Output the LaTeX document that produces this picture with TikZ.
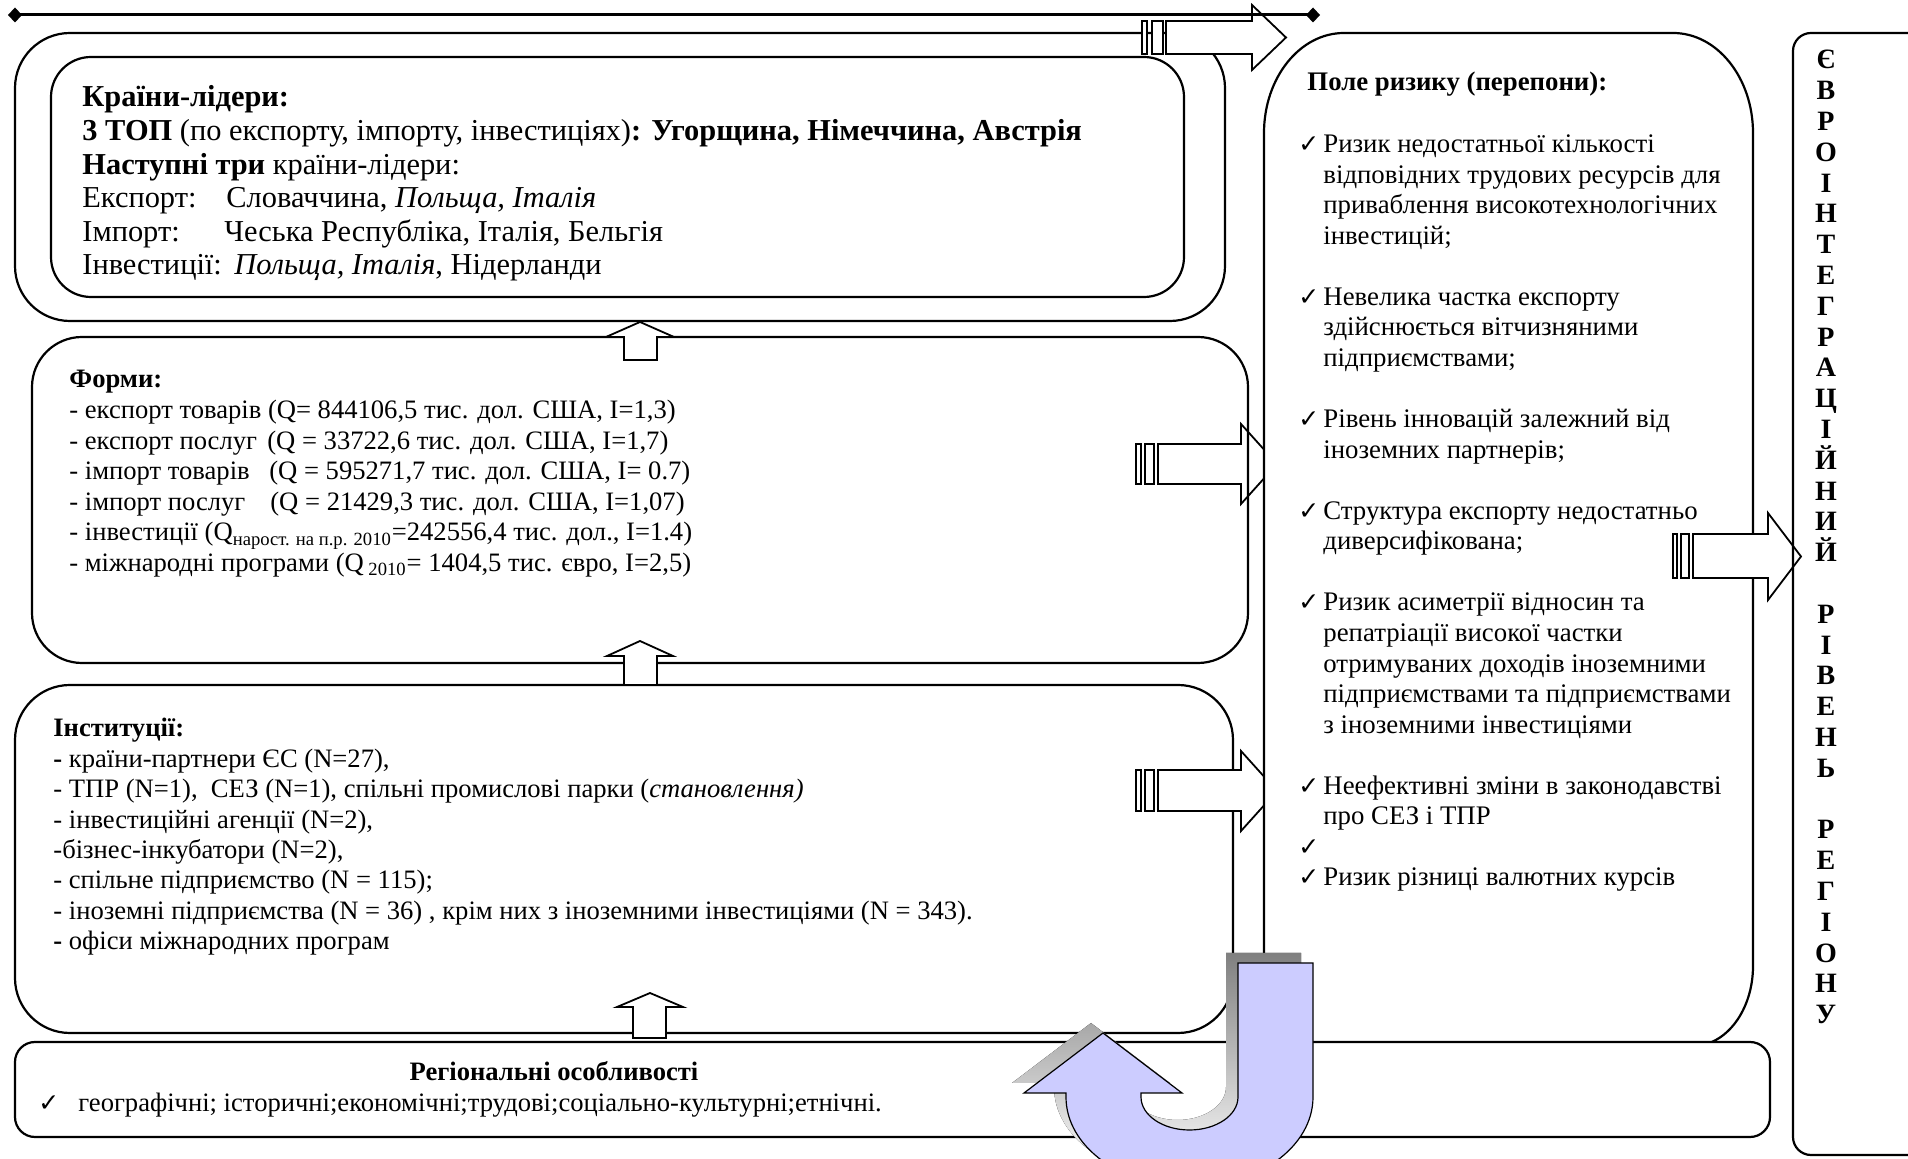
\documentclass[tikz,border=0pt]{standalone}
\usepackage{fontspec}
\setmainfont{Liberation Serif}
\newfontfamily\chkfont{DejaVu Sans}
\usetikzlibrary{arrows.meta}
\definecolor{lavender}{RGB}{204,204,255}
\definecolor{shade}{RGB}{128,128,128}
% U-turn arrow outline
\newcommand{\uturnpath}{(1238,963) -- (1313,963) -- (1313,1097)
  arc[start angle=0,end angle=180,x radius=123.5,y radius=90] -- (1066,1093)
  -- (1024,1093) -- (1103,1033) -- (1182,1093) -- (1141,1093) -- (1141,1097)
  arc[start angle=180,end angle=0,x radius=48.5,y radius=33] -- cycle}

\begin{document}
\begin{tikzpicture}[x=0.5pt,y=-0.5pt,
  box/.style={draw,line width=1.1pt},
  blk/.style={draw,line width=0.9pt,fill=white},
  txt/.style={anchor=base west,inner sep=0pt,font=\fontsize{13.3}{15}\selectfont},
  bigtxt/.style={txt,font=\fontsize{15.2}{17}\selectfont},
  risktxt/.style={txt,font=\fontsize{13.4}{15}\selectfont},
  chk/.style={anchor=base west,inner sep=0pt,font=\chkfont\fontsize{12.5}{14}\selectfont},
  eutxt/.style={anchor=base,inner sep=0pt,font=\bfseries\fontsize{14}{16}\selectfont}]
\useasboundingbox (0,0) rectangle (1908,1159);
%leaders
\draw[box,rounded corners=27.5pt] (15,33) rectangle (1225,321);
\draw[box,rounded corners=20pt] (51,57) rectangle (1184,297);
\node[bigtxt] (lead0) at (82,107) {\textbf{Країни-лідери:}};
\node[bigtxt] (lead1) at (82,140.6) {\textbf{3 ТОП} (по експорту, імпорту, інвестиціях)\textbf{: Угорщина, Німеччина, Австрія}};
\node[bigtxt] (lead2) at (82,174.2) {\textbf{Наступні три} країни-лідери:};
\node[bigtxt] (lead3) at (82,207.8) {\makebox[72pt][l]{Експорт:}Словаччина, \textit{Польща, Італія}};
\node[bigtxt] (lead4) at (82,241.4) {\makebox[71pt][l]{Імпорт:}Чеська Республіка, Італія, Бельгія};
\node[bigtxt] (lead5) at (82,275) {\makebox[76pt][l]{Інвестиції:}\textit{Польща, Італія}, Нідерланди};
%top arrow
\draw[blk] (1142,21) rectangle (1147,54);
\draw[blk] (1152,21) rectangle (1163,54);
\draw[blk] (1166,21) -- (1252,21) -- (1252,5) -- (1286,37.5) -- (1252,70) -- (1252,54) -- (1166,54) -- cycle;
\coordinate (lineL) at (8,15);
\coordinate (lineR) at (1320,15);
\draw[line width=1.5pt,{Diamond[length=7pt,width=7.5pt]}-{Diamond[length=7pt,width=7.5pt]}] (lineL) -- (lineR);
%forms
\draw[box,rounded corners=25pt] (32,337) rectangle (1248,663);
\node[txt] (form0) at (69,388) {\textbf{Форми:}};
\node[txt] (form1) at (69,418.6) {- експорт товарів (Q= 844106,5 тис. дол. США, I=1,3)};
\node[txt] (form2) at (69,449.2) {\makebox[99pt][l]{- експорт послуг}(Q = 33722,6 тис. дол. США, I=1,7)};
\node[txt] (form3) at (69,479.8) {\makebox[100pt][l]{- імпорт товарів}(Q = 595271,7 тис. дол. США, I= 0.7)};
\node[txt] (form4) at (69,510.4) {\makebox[100.5pt][l]{- імпорт послуг}(Q = 21429,3 тис. дол. США, I=1,07)};
\node[txt] (form5) at (69,541) {- інвестиції (Q\textsubscript{нарост. на п.р. 2010}=242556,4 тис. дол., I=1.4)};
\node[txt] (form6) at (69,571.6) {- міжнародні програми (Q\textsubscript{ 2010}= 1404,5 тис. євро, I=2,5)};
%institutions
\draw[box,rounded corners=27.5pt] (15,685) rectangle (1233,1033);
\node[txt] (inst0) at (53,737) {\textbf{Інституції:}};
\node[txt] (inst1) at (53,767.4) {\textbf{-} країни-партнери ЄС (N=27),};
\node[txt] (inst2) at (53,797.8) {- ТПР (N=1),\ \ СЕЗ (N=1), спільні промислові парки (\textit{становлення)}};
\node[txt] (inst3) at (53,828.2) {- інвестиційні агенції (N=2),};
\node[txt] (inst4) at (53,858.6) {-бізнес-інкубатори (N=2),};
\node[txt] (inst5) at (53,889) {- спільне підприємство (N = 115);};
\node[txt] (inst6) at (53,919.4) {- іноземні підприємства (N = 36) , крім них з іноземними інвестиціями (N = 343).};
\node[txt] (inst7) at (53,949.8) {\textbf{-} офіси міжнародних програм};
%up arrows
\draw[blk] (624,360) -- (624,337) -- (606,337) -- (640,322) -- (674,337) -- (657,337) -- (657,360) -- cycle;
\draw[blk] (624,685) -- (624,656) -- (607,656) -- (640,641) -- (673,656) -- (657,656) -- (657,685) -- cycle;
\draw[blk] (633,1038) -- (633,1007) -- (617,1007) -- (650,993) -- (683,1007) -- (666,1007) -- (666,1038) -- cycle;
%right arrows
\draw[blk,fill=none] (1136,444) rectangle (1141,484);
\draw[blk,fill=none] (1145,444) rectangle (1154,484);
\draw[blk,fill=none] (1158,444) -- (1241,444) -- (1241,424) -- (1277,464) -- (1241,504) -- (1241,484) -- (1158,484) -- cycle;
\draw[blk] (1136,770) rectangle (1141,811);
\draw[blk] (1145,770) rectangle (1154,811);
\draw[blk] (1158,770) -- (1241,770) -- (1241,751) -- (1277,791) -- (1241,831) -- (1241,811) -- (1158,811) -- cycle;
%risk
\draw[box,fill=white] (1264,133) arc[start angle=180,end angle=270,x radius=80,y radius=100]
  -- (1673,33) arc[start angle=270,end angle=360,x radius=80,y radius=100]
  -- (1753,966) arc[start angle=0,end angle=90,x radius=60,y radius=80]
  -- (1324,1046) arc[start angle=90,end angle=180,x radius=60,y radius=80] -- cycle;
\node[risktxt] (risk) at (1307,91) {\textbf{Поле ризику (перепони):}};
\foreach \n/\t in {0/{Ризик недостатньої кількості},1/{відповідних трудових ресурсів для},
  2/{приваблення високотехнологічних},3/{інвестицій;},
  5/{Невелика частка експорту},6/{здійснюється вітчизняними},7/{підприємствами;},
  9/{Рівень інновацій залежний від},10/{іноземних партнерів;},
  12/{Структура експорту недостатньо},13/{диверсифікована;},
  15/{Ризик асиметрії відносин та},16/{репатріації високої частки},
  17/{отримуваних доходів іноземними},18/{підприємствами та підприємствами},
  19/{з іноземними інвестиціями},
  21/{Неефективні зміни в законодавстві},22/{про СЕЗ і ТПР},
  24/{Ризик різниці валютних курсів}}
  \node[risktxt] (risk\n) at (1323,{152.5+\n*30.56}) {\t};
\foreach \n in {0,5,9,12,15,21,23,24}
  \node[chk] (chk\n) at (1298,{152.5+\n*30.56}) {✓};
%to eu
\draw[blk] (1673,534) rectangle (1677,578);
\draw[blk] (1681,534) rectangle (1689,578);
\draw[blk] (1693,534) -- (1768,534) -- (1768,513) -- (1801,556.5) -- (1768,600) -- (1768,578) -- (1693,578) -- cycle;
%eu
\draw[box,rounded corners=9pt] (1793,33) rectangle (1930,1155);
\foreach \c [count=\i from 0] in {Є,В,Р,О,І,Н,Т,Е,Г,Р,А,Ц,І,Й,Н,И,Й,{},Р,І,В,Е,Н,Ь,{},Р,Е,Г,І,О,Н,У}
  \node[eutxt] (eu\i) at (1826,{69+\i*30.8}) {\c};
%regional
\draw[box,fill=white,rounded corners=10pt] (15,1042) rectangle (1770,1137);
\node[txt,anchor=base] (reg0) at (554,1081) {\textbf{Регіональні особливості}};
\node[chk] (regchk) at (38,1112) {✓};
\node[txt] (reg1) at (78,1112) {географічні; історичні;економічні;трудові;соціально-культурні;етнічні.};
%u-turn
\fill[shade,shift={(-12,-10)}] \uturnpath;
\draw[line width=0.6pt,fill=lavender] \uturnpath;
\end{tikzpicture}
\end{document}
